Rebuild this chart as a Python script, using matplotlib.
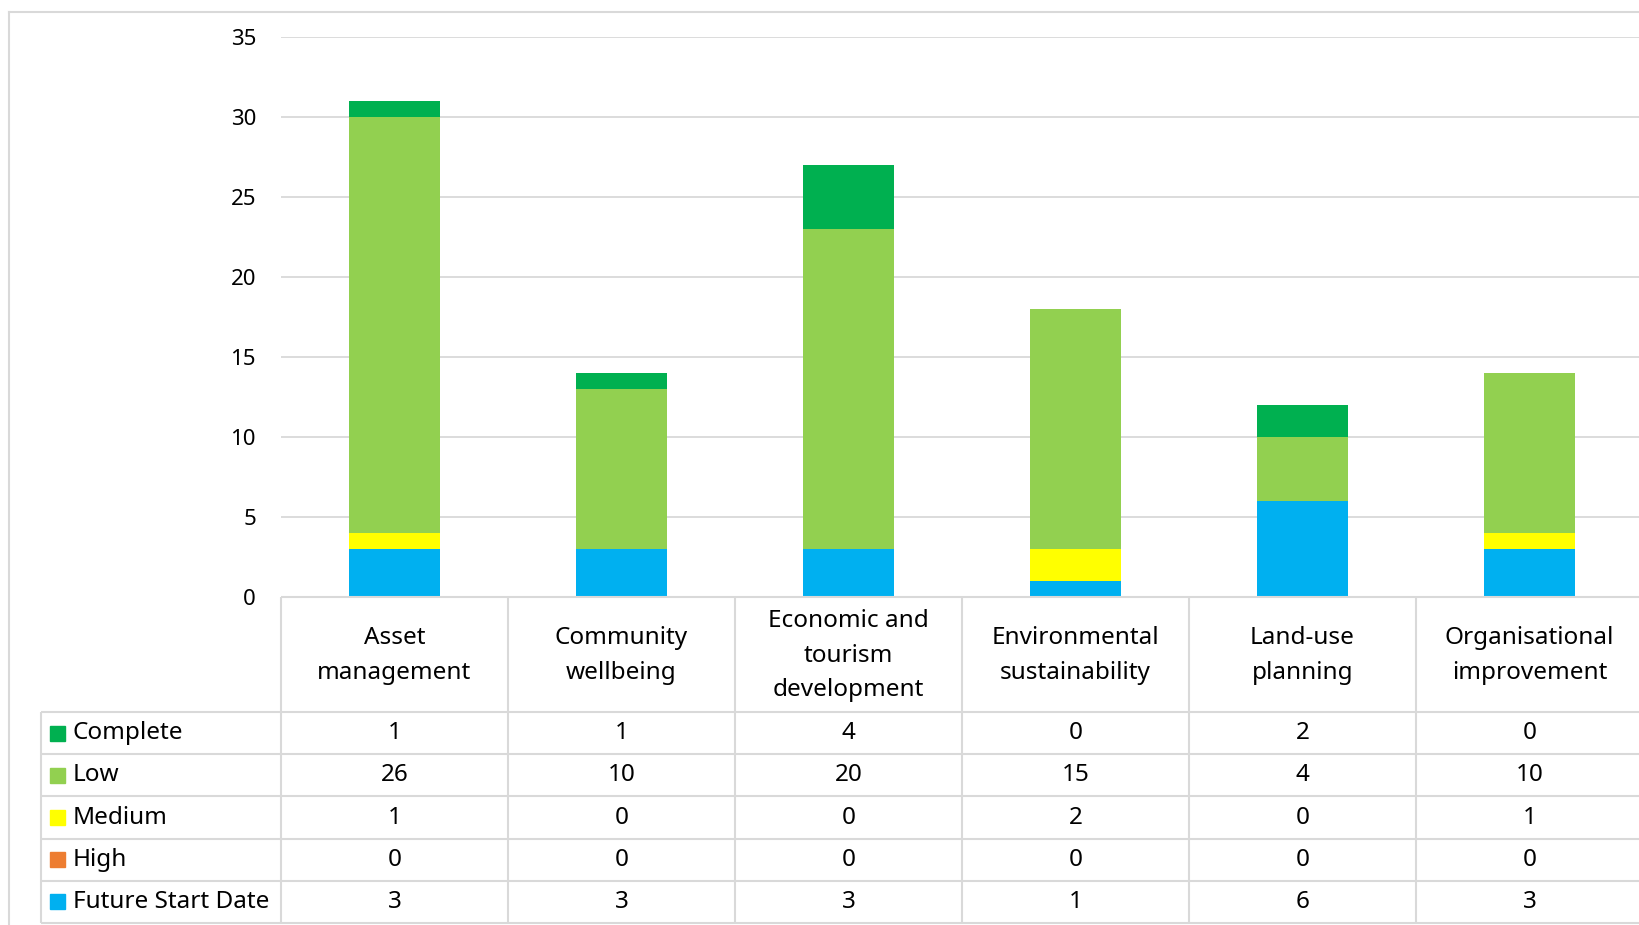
import matplotlib.pyplot as plt
import numpy as np
from matplotlib.lines import Line2D
from matplotlib.patches import Rectangle

plt.rcParams["font.family"] = ["Noto Sans", "DejaVu Sans"]

categories = ["Asset\nmanagement", "Community\nwellbeing", "Economic and\ntourism\ndevelopment",
              "Environmental\nsustainability", "Land-use\nplanning", "Organisational\nimprovement"]
series_names = ["Complete", "Low", "Medium", "High", "Future Start Date"]
complete = [1, 1, 4, 0, 2, 0]
low = [26, 10, 20, 15, 4, 10]
medium = [1, 0, 0, 2, 0, 1]
high = [0, 0, 0, 0, 0, 0]
future_start = [3, 3, 3, 1, 6, 3]

values = {"Complete": complete, "Low": low, "Medium": medium,
          "High": high, "Future Start Date": future_start}
colors = {"Complete": "#00B050", "Low": "#92D050", "Medium": "#FFFF00",
          "High": "#ED7D31", "Future Start Date": "#00B0F0"}

W, H = 1640, 925
fig = plt.figure(figsize=(W / 100, H / 100), dpi=100)

# layout in pixels (from the top-left corner)
plot_left, plot_right = 281, 1643
plot_top, plot_bottom = 37, 597
legend_left = 41
header_bottom = 712
row_h = 42.2
table_bottom = header_bottom + row_h * len(series_names)
grid_col = "#D9D9D9"
fsize = 17.5

ax = fig.add_axes([plot_left / W, 1 - plot_bottom / H,
                   (plot_right - plot_left) / W, (plot_bottom - plot_top) / H])
x = np.arange(len(categories))
bottom = np.zeros(len(categories))
for name in reversed(series_names):
    vals = np.array(values[name])
    ax.bar(x, vals, 0.4, bottom=bottom, color=colors[name], zorder=3)
    bottom += vals
ax.set_xlim(-0.5, len(categories) - 0.5)
ax.set_ylim(0, 35)
ax.set_yticks(range(0, 36, 5))
ax.set_xticks([])
ax.yaxis.grid(True, color=grid_col, linewidth=1.3, zorder=0)
for s in ax.spines.values():
    s.set_visible(False)
ax.tick_params(axis="y", length=0, pad=18, labelsize=16)

# data table under the bars
cat_w = (plot_right - plot_left) / len(categories)
x_left = -0.5 - (plot_left - legend_left) / cat_w
ax_t = fig.add_axes([legend_left / W, 1 - table_bottom / H,
                     (plot_right - legend_left) / W, (table_bottom - plot_bottom) / H])
ax_t.set_xlim(x_left, len(categories) - 0.5)
ax_t.set_ylim(table_bottom, plot_bottom)
ax_t.axis("off")

ax_t.hlines(plot_bottom, -0.5, len(categories) - 0.5, color=grid_col, lw=1.5, clip_on=False)
for k in range(len(series_names) + 1):
    ax_t.hlines(header_bottom + k * row_h, x_left, len(categories) - 0.5,
                color=grid_col, lw=1.5, clip_on=False)
for i in range(len(categories) + 1):
    ax_t.vlines(-0.5 + i, plot_bottom, table_bottom, color=grid_col, lw=1.5, clip_on=False)
ax_t.vlines(x_left, header_bottom, table_bottom, color=grid_col, lw=1.5, clip_on=False)

for i, cat in enumerate(categories):
    ax_t.text(i, (plot_bottom + header_bottom) / 2 + 1, cat, ha="center", va="center",
              fontsize=fsize, linespacing=1.6)

sw = 15
for r, name in enumerate(series_names):
    yc = header_bottom + (r + 0.5) * row_h
    ax_t.add_patch(Rectangle((x_left + 9 / cat_w, yc - sw / 2), sw / cat_w, sw,
                             color=colors[name], clip_on=False))
    ax_t.text(x_left + 32 / cat_w, yc, name, ha="left", va="center", fontsize=fsize)
    for i, v in enumerate(values[name]):
        ax_t.text(i, yc, str(v), ha="center", va="center", fontsize=fsize)

# chart border
fig.add_artist(Line2D([8.5 / W, 8.5 / W], [0, 1 - 12 / H], color=grid_col, lw=1.5))
fig.add_artist(Line2D([8.5 / W, 1], [1 - 12 / H, 1 - 12 / H], color=grid_col, lw=1.5))

fig.savefig("out.png", dpi=100)
